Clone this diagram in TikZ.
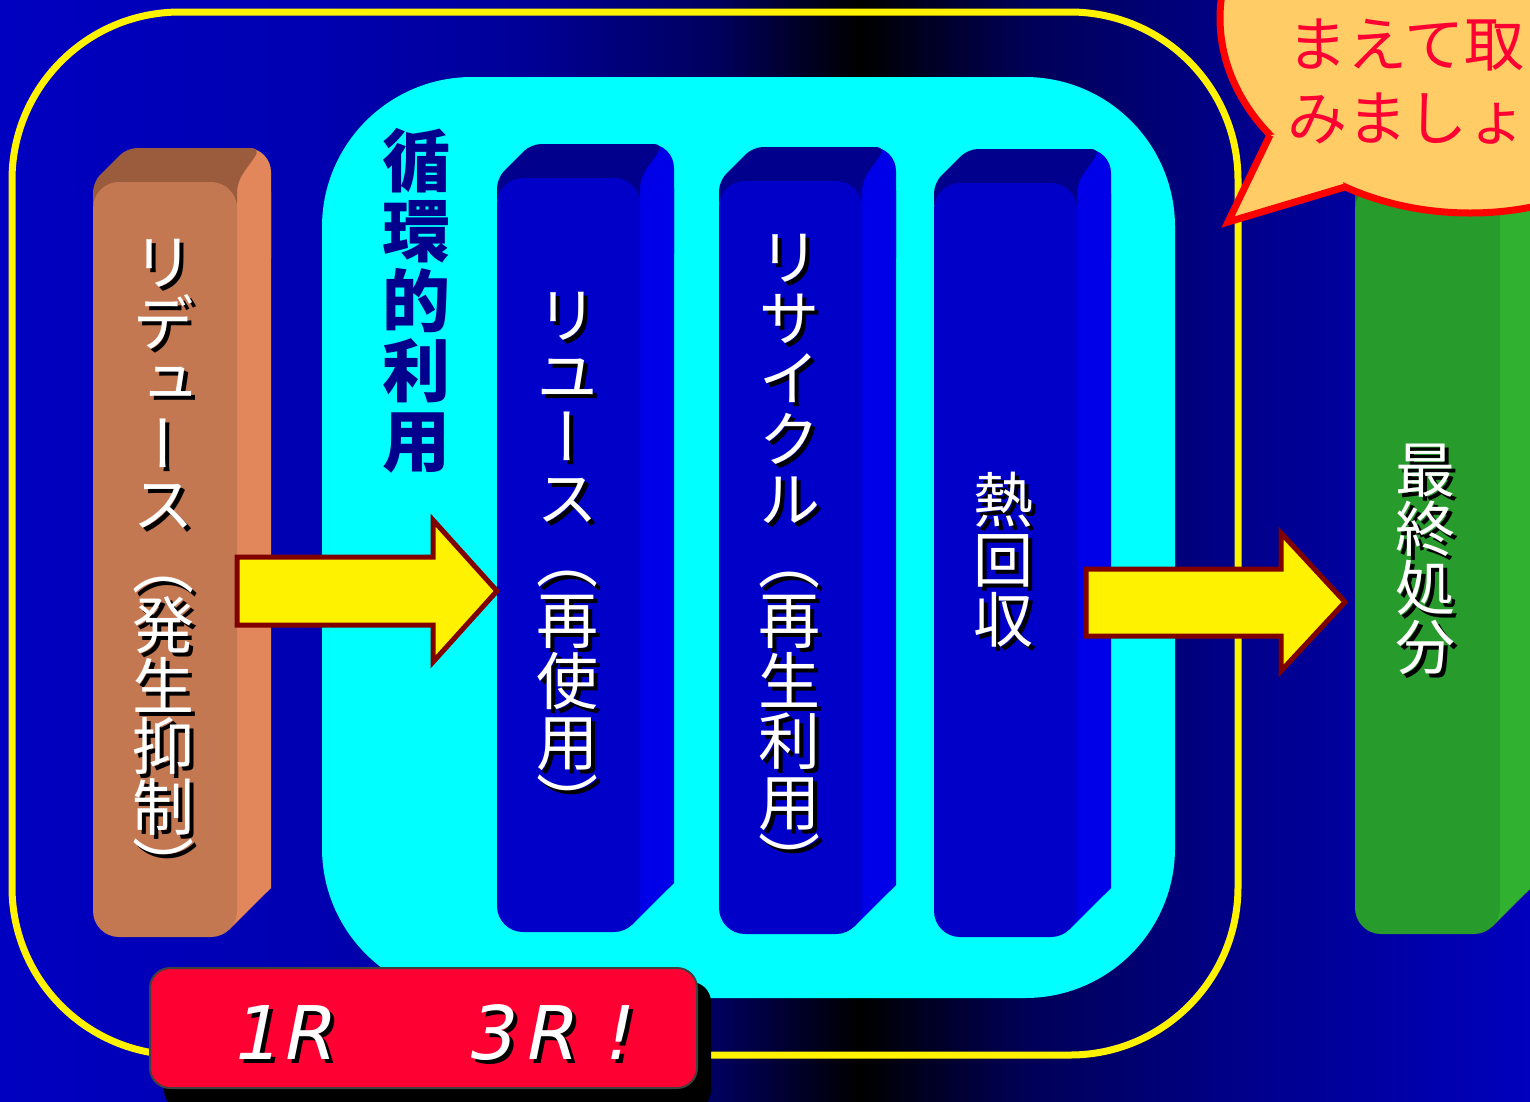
\documentclass[tikz,border=0pt]{standalone}
\usepackage{fontspec}
\newfontfamily\jp{Noto Sans CJK JP}
\newfontfamily\vjp{Noto Sans CJK JP}[RawFeature=+vert]
\newfontfamily\rfont{DejaVu Sans}[FakeSlant=0.2]
\definecolor{bg0}{RGB}{0,0,192}
\definecolor{bg1}{RGB}{0,0,178}
\definecolor{bg2}{RGB}{0,0,152}
\definecolor{bg3}{RGB}{0,0,92}
\definecolor{bg4}{RGB}{0,0,0}
\definecolor{bg5}{RGB}{0,0,85}
\definecolor{bg6}{RGB}{0,0,140}
\definecolor{bg7}{RGB}{0,0,190}
\definecolor{aqua}{RGB}{0,255,255}
\definecolor{brF}{RGB}{196,120,82}
\definecolor{brT}{RGB}{154,92,60}
\definecolor{brS}{RGB}{226,134,92}
\definecolor{blF}{RGB}{0,0,200}
\definecolor{blT}{RGB}{0,0,140}
\definecolor{blS}{RGB}{0,0,232}
\definecolor{grF}{RGB}{40,155,45}
\definecolor{grT}{RGB}{30,120,34}
\definecolor{grS}{RGB}{48,178,48}
\definecolor{navytxt}{RGB}{0,0,140}
\definecolor{arrowred}{RGB}{128,0,0}
\definecolor{boxred}{RGB}{255,0,51}
\definecolor{bubfill}{RGB}{255,204,102}
\definecolor{bubtxt}{RGB}{255,0,51}
\tikzset{
  vtxt/.style={inner sep=0pt, text=white},
  vshd/.style={inner sep=0pt, text=black},
  v62/.style={font=\vjp\fontsize{62}{62}\selectfont, text height=54.6pt, text depth=7.4pt},
  v60/.style={font=\vjp\fontsize{60}{60}\selectfont, text height=52.8pt, text depth=7.2pt},
  v68/.style={font=\vjp\bfseries\fontsize{68}{68}\selectfont, text height=59.8pt, text depth=8.2pt, inner sep=0pt, text=navytxt},
  blockarrow/.style={fill=yellow, draw=arrowred, line width=5pt, line join=miter},
  bubline/.style={draw=red, line width=7pt},
  btxt/.style={font=\jp\fontsize{60}{60}\selectfont, text=bubtxt, inner sep=0pt, text height=52.8pt, text depth=7.2pt, anchor=west},
  rtxt/.style={font=\rfont\fontsize{74}{74}\selectfont, inner sep=0pt, anchor=base},
}
% #1 x1, #2 y1 (front top), #3 x2, #4 y2 (front bottom), #5 front, #6 top, #7 side
\newcommand\colbox[7]{%
  \fill[#7, rounded corners=24pt] (#1+34,#2-34) rectangle (#3+34,#2+100);
  \fill[#7] (#3-10,#2+10) -- (#3+34,#2+10) -- (#3+34,#4-49) -- (#3-7.6,#4-7.6) -- (#3-10,#4-10) -- cycle;
  \fill[#6, rounded corners=10pt] (#1,#2+30) -- (#1,#2) -- (#1+34,#2-34) -- (#3+24,#2-34) -- (#3,#2) -- (#3,#2+30) -- cycle;
  \fill[#5, rounded corners=26pt] (#1,#2) rectangle (#3,#4);
}
\newcommand\vlab[6]{%
  \foreach \ch [count=\k from 0] in {#6}{%
    \node[vshd,#5] (#1s\k) at (#2+4,#3+\k*#4+4) {\ch};
    \node[vtxt,#5] (#1\k) at (#2,#3+\k*#4) {\ch};}}
\begin{document}
\begin{tikzpicture}[x=1pt,y=-1pt]
\useasboundingbox (0,0) rectangle (1530,1101);
\begin{scope}
\clip (0,0) rectangle (1530,1101);
% background gradient
\shade[left color=bg0,right color=bg1] (0,0) rectangle (301,1101);
\shade[left color=bg1,right color=bg2] (300,0) rectangle (521,1101);
\shade[left color=bg2,right color=bg3] (520,0) rectangle (721,1101);
\shade[left color=bg3,right color=bg4] (720,0) rectangle (861,1101);
\shade[left color=bg4,right color=bg5] (860,0) rectangle (1021,1101);
\shade[left color=bg5,right color=bg6] (1020,0) rectangle (1251,1101);
\shade[left color=bg6,right color=bg7] (1250,0) rectangle (1530,1101);
% yellow frame and cyan area
\draw[yellow, line width=7pt, rounded corners=168pt] (12,12) rectangle (1238,1055);
\fill[aqua, rounded corners=150pt] (322,77) rectangle (1175,998);
% columns
\colbox{93}{182}{237}{937}{brF}{brT}{brS}
\colbox{497}{178}{640}{932}{blF}{blT}{blS}
\colbox{719}{181}{862}{934}{blF}{blT}{blS}
\colbox{934}{183}{1077}{937}{blF}{blT}{blS}
\colbox{1355}{183}{1500}{934}{grF}{grT}{grS}
% vertical labels
\vlab{red}{163}{262}{60.5}{v62}{リ,デ,ュ,ー,ス,（,発,生,抑,制,）}
\vlab{reu}{567}{315}{61}{v62}{リ,ユ,ー,ス,（,再,使,用,）}
\vlab{rec}{789}{257}{60.5}{v62}{リ,サ,イ,ク,ル,（,再,生,利,用,）}
\vlab{heat}{1003}{500}{60}{v60}{熱,回,収}
\vlab{fin}{1425}{470}{59}{v60}{最,終,処,分}
\foreach \ch [count=\k from 0] in {循,環,的,利,用}{%
  \node[v68] (cyc\k) at (416,161+\k*70) {\ch};}
% block arrows
\draw[blockarrow] (237,557) -- (433,557) -- (433,520) -- (497,591) -- (433,662) -- (433,625) -- (237,625) -- cycle;
\draw[blockarrow] (1086,569) -- (1281,569) -- (1281,533) -- (1345,602) -- (1281,671) -- (1281,636) -- (1086,636) -- cycle;
% speech bubble
\fill[bubfill] (1470,18) ellipse [x radius=250pt, y radius=195pt];
\draw[bubline] (1470,18) ellipse [x radius=250pt, y radius=195pt];
\fill[bubfill] (1270,135) -- (1228,222) -- (1345,187) -- (1320,130) -- cycle;
\draw[bubline, line join=miter] (1270,135) -- (1228,222) -- (1345,187);
\node[btxt] (bt1) at (1287,44) {まえて取};
\node[btxt] (bt2) at (1287,118) {みましょ};
% red label box
\fill[black, rounded corners=20pt] (164,982) rectangle (711,1110);
\filldraw[fill=boxred, draw=black!75, line width=2pt, rounded corners=20pt] (150,968) rectangle (697,1088);
\foreach \c/\xx [count=\k] in {1/254,R/306,3/489,R/548,!/615}{%
  \node[rtxt, text=black] (rs\k) at (\xx+4,1063) {\c};
  \node[rtxt, text=white] (r\k) at (\xx,1059) {\c};}
\end{scope}
\end{tikzpicture}
\end{document}
